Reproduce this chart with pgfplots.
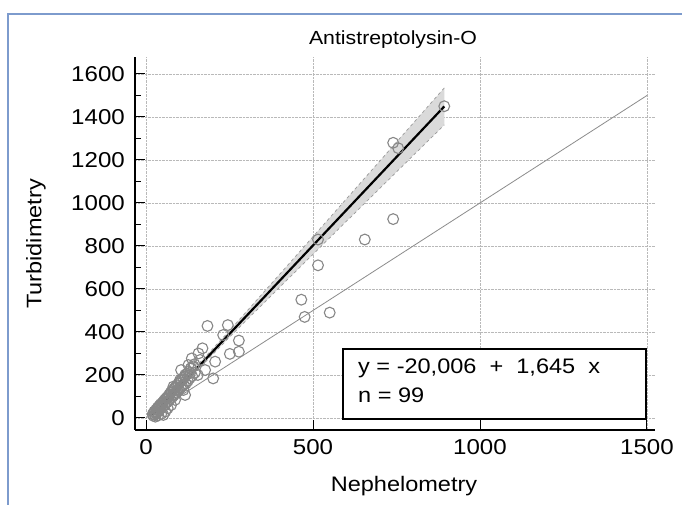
\documentclass[border=0pt]{standalone}
\usepackage{fontspec}
\setmainfont{Liberation Sans}[FakeStretch=1.12]
\usepackage{pgfplots}
\pgfplotsset{compat=1.18}
\definecolor{frameblue}{RGB}{125,155,205}
\definecolor{ptgray}{RGB}{135,135,135}
\definecolor{bandgray}{RGB}{218,218,218}

\begin{document}
\begin{tikzpicture}
\useasboundingbox (0,0) rectangle (682pt,505pt);
\fill[white] (0,0) rectangle (682pt,505pt);
\draw[frameblue, line width=1.5pt] (8pt,0) -- (8pt,491pt) -- (682pt,491pt);

\begin{axis}[
    at={(135pt,75pt)}, anchor=south west,
    scale only axis, width=520pt, height=373pt,
    xmin=-33, xmax=1524, ymin=-56, ymax=1679,
    axis x line*=bottom, axis y line*=left,
    axis line style={line width=1.3pt, black},
    xtick={0,500,1000,1500}, ytick={0,200,...,1600},
    minor y tick num=1,
    tick align=inside,
    major tick length=10pt, minor tick length=6pt,
    every tick/.style={black, line width=1pt},
    grid=major,
    major grid style={densely dotted, gray!55, line width=0.8pt},
    /pgf/number format/assume math mode=true,
    /pgf/number format/1000 sep={},
    tick label style={font=\fontsize{21.5}{25}\selectfont},
    xticklabel style={inner sep=0pt, anchor=north, yshift=-9pt},
    yticklabel style={inner sep=0pt, anchor=east, xshift=-10pt},
]

% confidence band of the regression line
\addplot[fill=bandgray, draw=none] coordinates {
    (20,34) (100,159) (170,272) (250,406) (400,668) (550,931) (700,1195) (893,1535)
    (893,1363) (700,1068) (550,838) (400,608) (250,376) (170,248) (100,130) (20,-8)
} -- cycle;
\addplot[gray!80, dashed, line width=0.7pt] coordinates {
    (20,34) (100,159) (170,272) (250,406) (400,668) (550,931) (700,1195) (893,1535)};
\addplot[gray!80, dashed, line width=0.7pt] coordinates {
    (20,-8) (100,130) (170,248) (250,376) (400,608) (550,838) (700,1068) (893,1363)};

% identity line
\addplot[gray!90, line width=0.8pt] coordinates {(0,0) (1500,1500)};

% measurements
\addplot[only marks, mark=o, mark size=5.4pt, ptgray,
         mark options={fill=white, line width=1.1pt}] coordinates {
    (20,18) (22,10) (24,25) (25,30) (27,15) (28,6) (30,38) (31,22) (33,42) (34,28)
    (35,48) (37,12) (38,52) (40,36) (41,58) (43,44) (44,64) (46,20) (47,66) (49,50)
    (50,72) (52,14) (53,78) (55,58) (57,86) (58,30) (60,90) (62,72) (63,96) (65,45)
    (67,102) (68,80) (70,110) (72,88) (74,118) (75,60) (77,124) (79,98) (81,130) (83,105)
    (85,138) (87,112) (89,145) (91,118) (93,152) (95,125) (97,160) (99,132) (101,168) (104,140)
    (106,175) (108,148) (111,185) (113,155) (116,192) (119,160) (122,205) (125,172) (128,215) (131,185)
    (134,230) (138,195) (142,240) (146,210)
    (184,428) (245,432) (231,386) (278,360) (278,308) (251,298) (169,324) (137,277) (207,262) (157,300)
    (177,223) (105,223) (127,246) (201,184) (155,200) (117,200) (162,270) (132,209) (102,177) (82,146)
    (112,130) (87,84) (117,107) (135,232) (145,250)
    (465,550) (475,470) (515,830) (515,710) (550,490) (655,830) (740,925) (740,1280) (755,1255) (893,1450)
};

% regression line
\addplot[black, line width=2.2pt] coordinates {(20,12.9) (893,1449)};
\end{axis}

\node[font=\fontsize{19}{22}\selectfont] at (393pt,465pt) {Antistreptolysin-O};
\node[font=\fontsize{21}{24}\selectfont] at (404pt,19pt) {Nephelometry};
\node[font=\fontsize{21}{24}\selectfont, rotate=90] at (36pt,261pt) {Turbidimetry};

\draw[line width=1.2pt, fill=white] (343pt,86pt) rectangle (646pt,156pt);
\node[anchor=base west, inner sep=0pt, font=\fontsize{21}{24}\selectfont] at (358pt,131pt) {y = -20,006\ \ +\ \ 1,645\ \ x};
\node[anchor=base west, inner sep=0pt, font=\fontsize{21}{24}\selectfont] at (358pt,102pt) {n = 99};
\end{tikzpicture}
\end{document}
